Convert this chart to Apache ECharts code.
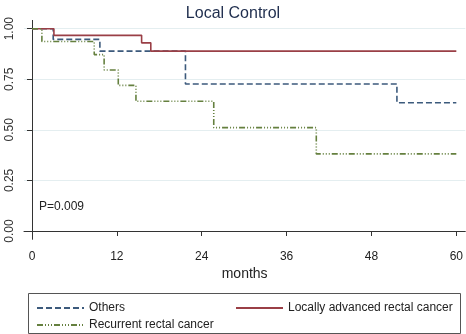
<!DOCTYPE html>
<html>
<head>
<meta charset="utf-8">
<script src="https://cdn.jsdelivr.net/npm/echarts@6/dist/echarts.min.js"></script>
<style>
  html, body { margin: 0; padding: 0; background: #fff; }
  #chart { width: 466px; height: 334px; }
</style>
</head>
<body>
<div id="chart"></div>
<script>
// Kaplan-Meier steps
var monthsOthers = [0, 3.0, 9.6, 21.7, 51.6, 60]
var survOthers = [1, 0.947, 0.889, 0.727, 0.634, 0.634]

var monthsLocal = [0, 3.1, 15.5, 16.8, 60]
var survLocal = [1, 0.967, 0.930, 0.889, 0.889]

var monthsRecur = [0, 1.4, 8.8, 10.2, 12.2, 14.7, 25.7, 40.2, 60]
var survRecur = [1, 0.937, 0.872, 0.796, 0.720, 0.641, 0.511, 0.381, 0.381]

var xTicks = [0, 12, 24, 36, 48, 60]
var yTicks = [0, 0.25, 0.5, 0.75, 1]
var yGrid = [0.25, 0.5, 0.75, 1]

function pairs(xs, ys) {
    return xs.map(function (x, i) { return [x, ys[i]] })
}

var font = 'Liberation Sans, Arial, sans-serif'
var legendText = { fontFamily: font, fontSize: 12, color: '#222' }
var mychart = echarts.init(document.getElementById('chart'))
mychart.setOption({
    animation: false,
    backgroundColor: '#fff',
    title: {
        text: 'Local Control',
        left: 'center',
        top: 1,
        textStyle: { fontFamily: font, fontSize: 16, fontWeight: 'normal', color: '#1e2d4d' }
    },
    grid: { left: 24, right: 0, top: 20.4, bottom: 94.7 },
    legend: [{
        data: ['Others'], left: 31, top: 297, itemWidth: 47, itemHeight: 10,
        itemStyle: { opacity: 0 }, textStyle: legendText
    }, {
        data: ['Locally advanced rectal cancer'], left: 230, top: 297, itemWidth: 47, itemHeight: 10,
        itemStyle: { opacity: 0 }, textStyle: legendText
    }, {
        data: ['Recurrent rectal cancer'], left: 31, top: 314, itemWidth: 47, itemHeight: 10,
        itemStyle: { opacity: 0 }, textStyle: legendText
    }],
    graphic: [{
        type: 'rect',
        shape: { x: 28.5, y: 293.5, width: 432, height: 40 },
        style: { fill: 'none', stroke: '#555', lineWidth: 1 }
    }, {
        type: 'text',
        left: 39, top: 201,
        style: { text: 'P=0.009', font: '12px ' + font, fill: '#222' }
    }],
    xAxis: {
        type: 'value',
        min: -1.13,
        max: 61.27,
        name: 'months',
        nameLocation: 'middle',
        nameGap: 25,
        nameTextStyle: { fontFamily: font, fontSize: 14, color: '#222' },
        axisLine: { show: true, lineStyle: { color: '#333', width: 1 } },
        axisTick: { show: true, length: 5, customValues: xTicks, lineStyle: { color: '#333' } },
        axisLabel: { customValues: xTicks, margin: 11, fontFamily: font, fontSize: 12, color: '#222' },
        splitLine: { show: false }
    },
    yAxis: [{
        type: 'value',
        min: -0.041,
        max: 1.041,
        axisLine: { show: true, lineStyle: { color: '#333', width: 1 } },
        axisTick: { show: true, length: 5, customValues: yTicks, lineStyle: { color: '#333' } },
        axisLabel: {
            customValues: yTicks, rotate: 90, margin: 8, fontFamily: font, fontSize: 12, color: '#333',
            formatter: function (v) { return v.toFixed(2) }
        },
        splitLine: { show: false }
    }, {
        type: 'value',
        min: -0.041,
        max: 1.041,
        position: 'left',
        axisLine: { show: false },
        axisTick: { show: false, customValues: yGrid },
        axisLabel: { show: false, customValues: yGrid },
        splitLine: { show: true, lineStyle: { color: '#e4eef0', width: 1 } }
    }],
    series: [{
        name: 'Others',
        type: 'line',
        step: 'end',
        symbol: 'none',
        color: '#3c5a7c',
        lineStyle: { color: '#3c5a7c', width: 1.6, type: [6, 3] },
        data: pairs(monthsOthers, survOthers)
    }, {
        name: 'Locally advanced rectal cancer',
        type: 'line',
        step: 'end',
        symbol: 'none',
        color: '#9a3f46',
        lineStyle: { color: '#9a3f46', width: 1.6 },
        data: pairs(monthsLocal, survLocal)
    }, {
        name: 'Recurrent rectal cancer',
        type: 'line',
        step: 'end',
        symbol: 'none',
        color: '#65803f',
        lineStyle: { color: '#65803f', width: 1.6, type: [6, 2, 1, 2, 1, 2, 1, 2] },
        data: pairs(monthsRecur, survRecur)
    }]
})
</script>
</body>
</html>
